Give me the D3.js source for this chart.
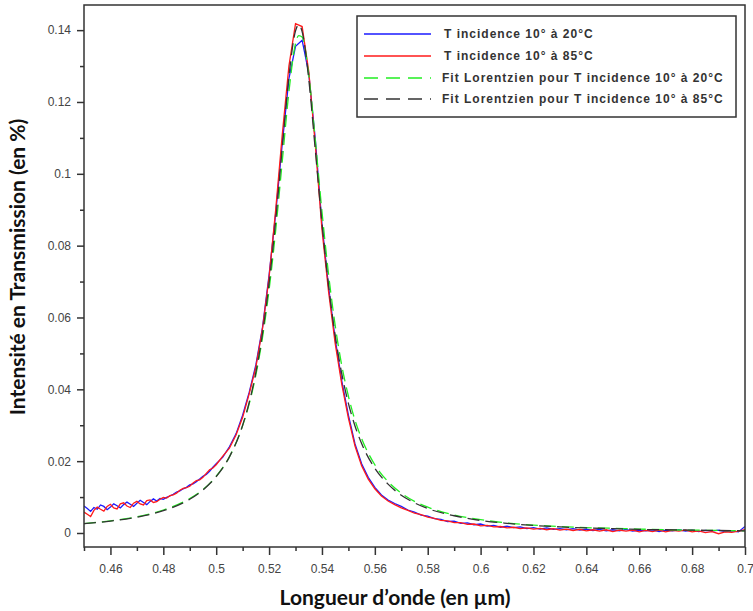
<!DOCTYPE html>
<html><head><meta charset="utf-8">
<script src="https://cdn.jsdelivr.net/npm/d3@7"></script>
<style>html,body{margin:0;padding:0;background:#fff;}svg{display:block;}</style>
</head><body>
<svg id="c" width="753" height="611"></svg>
<script>
// ---- data ----
const measX = [0.45,0.45125,0.4525,0.45375,0.455,0.45625,0.4575,0.45875,0.46,0.46125,0.4625,0.46375,0.465,0.46625,0.4675,0.46875,0.47,0.47125,0.4725,0.47375,
0.475,0.47625,0.4775,0.47875,0.48,0.48125,0.4825,0.48375,0.485,0.48625,0.4875,0.48875,0.49,0.49125,0.4925,0.49375,0.495,0.49625,0.4975,0.49875,
0.50,0.5025,0.505,0.5075,0.51,0.5125,0.515,0.5175,0.52,0.5225,0.525,0.5275,0.53,0.5325,0.535,0.5375,0.54,0.5425,0.545,0.5475,
0.55,0.5525,0.555,0.5575,0.56,0.5625,0.565,0.5675,0.57,0.5725,0.575,0.5775,0.58,0.5825,0.585,0.5875,0.59,0.5925,0.595,0.5975,
0.60,0.6025,0.605,0.6075,0.61,0.6125,0.615,0.6175,0.62,0.6225,0.625,0.6275,0.63,0.6325,0.635,0.6375,0.64,0.6425,0.645,0.6475,
0.65,0.6525,0.655,0.6575,0.66,0.6625,0.665,0.6675,0.67,0.6725,0.675,0.6775,0.68,0.6825,0.685,0.6875,0.69,0.6925,0.695,0.6975,0.70];
const meas20 = [0.0075,0.0068,0.0060,0.0071,0.0066,0.0078,0.0074,0.0065,0.0072,0.0081,0.0076,0.0070,0.0079,0.0086,0.0080,0.0074,0.0083,0.0091,0.0085,0.0079,
0.0088,0.0095,0.0089,0.0096,0.0094,0.0099,0.0103,0.0108,0.0114,0.0117,0.0123,0.0127,0.0134,0.0137,0.0143,0.0150,0.0158,0.0163,0.0172,0.0183,
0.0193,0.0211,0.0240,0.0276,0.0328,0.0392,0.0468,0.0572,0.0718,0.0890,0.1085,0.1265,0.1355,0.1372,0.1280,0.1095,0.0860,0.0685,0.0540,0.0423,
0.0328,0.0248,0.0193,0.0155,0.0127,0.0106,0.0092,0.0082,0.0074,0.0064,0.0058,0.0050,0.0047,0.0040,0.0038,0.0032,0.0033,0.0027,0.0028,0.0023,
0.0025,0.0019,0.0021,0.0016,0.0019,0.0015,0.0017,0.0012,0.0015,0.0011,0.0014,0.0010,0.0012,0.0009,0.0012,0.0008,0.0011,0.0007,0.0010,0.0006,
0.0009,0.0006,0.0010,0.0005,0.0008,0.0006,0.0009,0.0004,0.0008,0.0006,0.0009,0.0005,0.0008,0.0004,0.0007,0.0005,0.0008,0.0004,0.0006,0.0003,0.0018];
const meas85 = [0.0058,0.0052,0.0046,0.0063,0.0072,0.0066,0.0061,0.0074,0.0080,0.0070,0.0067,0.0081,0.0084,0.0075,0.0071,0.0083,0.0088,0.0081,0.0078,0.0090,
0.0092,0.0085,0.0087,0.0094,0.0099,0.0097,0.0104,0.0106,0.0111,0.0119,0.0124,0.0126,0.0130,0.0139,0.0146,0.0148,0.0155,0.0166,0.0176,0.0181,
0.0190,0.0214,0.0236,0.0273,0.0322,0.0388,0.0462,0.0568,0.0712,0.0900,0.1110,0.1300,0.1418,0.1410,0.1285,0.1080,0.0845,0.0672,0.0528,0.0414,
0.0320,0.0242,0.0187,0.0150,0.0123,0.0103,0.0089,0.0079,0.0070,0.0063,0.0055,0.0051,0.0044,0.0041,0.0035,0.0034,0.0029,0.0029,0.0024,0.0025,
0.0020,0.0021,0.0017,0.0018,0.0014,0.0016,0.0012,0.0014,0.0011,0.0013,0.0009,0.0012,0.0008,0.0011,0.0007,0.0010,0.0006,0.0009,0.0005,0.0009,
0.0004,0.0008,0.0005,0.0008,0.0003,0.0007,0.0004,0.0008,0.0003,0.0007,0.0005,0.0008,0.0003,0.0006,0.0001,0.0004,-0.0002,0.0003,0.0002,0.0005,0.0009];

const fitX = [0.45,0.46,0.47,0.48,0.49,0.495,0.50,0.505,0.51,0.5125,0.515,0.5175,0.52,0.5225,0.525,0.5275,0.53,0.5312,0.5325,0.535,
0.5375,0.54,0.5425,0.545,0.5475,0.55,0.5525,0.555,0.56,0.565,0.57,0.575,0.58,0.59,0.60,0.61,0.62,0.63,0.64,0.65,0.66,0.67,0.68,0.69,0.70];
const fit20 = [0.0026,0.0034,0.0045,0.0064,0.0096,0.0121,0.0158,0.0212,0.0299,0.0360,0.0440,0.0544,0.0677,0.0843,0.1036,0.1228,0.1363,0.1385,0.1381,0.1275,
0.1092,0.0895,0.0720,0.0578,0.0466,0.0381,0.0314,0.0263,0.0190,0.0143,0.0111,0.0088,0.0072,0.0050,0.0037,0.0028,0.0022,0.0018,0.0015,0.0013,0.0011,0.0009,0.0008,0.0007,0.0006];
const fit85 = [0.0026,0.0033,0.0044,0.0062,0.0094,0.0120,0.0157,0.0212,0.0300,0.0364,0.0447,0.0555,0.0695,0.0870,0.1074,0.1271,0.1398,0.1415,0.1396,0.1264,
0.1065,0.0863,0.0688,0.0550,0.0443,0.0361,0.0298,0.0249,0.0180,0.0136,0.0105,0.0084,0.0068,0.0048,0.0035,0.0027,0.0021,0.0017,0.0014,0.0012,0.0010,0.0009,0.0008,0.0007,0.0006];

const xMajor = [0.46,0.48,0.50,0.52,0.54,0.56,0.58,0.60,0.62,0.64,0.66,0.68,0.70];
const xMajorLabels = ["0.46","0.48","0.5","0.52","0.54","0.56","0.58","0.6","0.62","0.64","0.66","0.68","0.7"];
const xMinor = [0.45,0.47,0.49,0.51,0.53,0.55,0.57,0.59,0.61,0.63,0.65,0.67,0.69];
const yMajor = [0,0.02,0.04,0.06,0.08,0.10,0.12,0.14];
const yMajorLabels = ["0","0.02","0.04","0.06","0.08","0.1","0.12","0.14"];
const yMinor = [0.01,0.03,0.05,0.07,0.09,0.11,0.13];

const seriesNames = ["T incidence 10° à 20°C","T incidence 10° à 85°C","Fit Lorentzien pour T incidence 10° à 20°C","Fit Lorentzien pour T incidence 10° à 85°C"];
const seriesColors = ["#1a1aff","#ff1a1a","#22ee22","#333333"];
const seriesDash = [null,null,"12,6","12,6"];

// ---- layout ----
const svg = d3.select("#c");
const L = 84, R = 745, T = 5, B = 547;
const x = d3.scaleLinear().domain([0.45,0.70]).range([L,R]);
const y = d3.scaleLinear().domain([-0.0039,0.147]).range([B,T]);

const axisColor = "#333";
const tickFont = "'Liberation Sans', Arial, sans-serif";

// x axis
const gx = svg.append("g").attr("transform",`translate(0,${B})`)
  .call(d3.axisBottom(x).tickValues(xMajor).tickSize(8).tickPadding(9)
    .tickFormat((d,i)=>xMajorLabels[i]));
gx.select(".domain").remove();
gx.selectAll("text").attr("font-family",tickFont).attr("font-size",12).attr("fill","#444");
gx.selectAll("line").attr("stroke",axisColor).attr("stroke-width",1.5);
const gxm = svg.append("g").attr("transform",`translate(0,${B})`)
  .call(d3.axisBottom(x).tickValues(xMinor).tickSize(4).tickFormat(""));
gxm.select(".domain").remove();
gxm.selectAll("line").attr("stroke",axisColor).attr("stroke-width",1.5);

// y axis
const gy = svg.append("g").attr("transform",`translate(${L},0)`)
  .call(d3.axisLeft(y).tickValues(yMajor).tickSize(7).tickPadding(6)
    .tickFormat((d,i)=>yMajorLabels[i]));
gy.select(".domain").remove();
gy.selectAll("text").attr("font-family",tickFont).attr("font-size",12).attr("fill","#444");
gy.selectAll("line").attr("stroke",axisColor).attr("stroke-width",1.5);
const gym = svg.append("g").attr("transform",`translate(${L},0)`)
  .call(d3.axisLeft(y).tickValues(yMinor).tickSize(4).tickFormat(""));
gym.select(".domain").remove();
gym.selectAll("line").attr("stroke",axisColor).attr("stroke-width",1.5);

// curves
const clip = svg.append("clipPath").attr("id","pc").append("rect")
  .attr("x",L).attr("y",T).attr("width",R-L).attr("height",B-T);
const plot = svg.append("g").attr("clip-path","url(#pc)");
const lineGen = d3.line().x(d=>x(d[0])).y(d=>y(d[1]));
const smoothGen = d3.line().x(d=>x(d[0])).y(d=>y(d[1])).curve(d3.curveMonotoneX);
const series = [
  {xs:measX, ys:meas20, gen:lineGen},
  {xs:measX, ys:meas85, gen:lineGen},
  {xs:fitX, ys:fit20, gen:smoothGen},
  {xs:fitX, ys:fit85, gen:smoothGen}
];
series.forEach((s,i)=>{
  const pts = s.xs.map((v,k)=>[v,s.ys[k]]);
  plot.append("path").attr("d",s.gen(pts)).attr("fill","none")
    .attr("stroke",seriesColors[i]).attr("stroke-width",1.3)
    .attr("stroke-dasharray",seriesDash[i]);
});

// frame
svg.append("rect").attr("x",L).attr("y",T).attr("width",R-L).attr("height",B-T)
  .attr("fill","none").attr("stroke",axisColor).attr("stroke-width",1.5);

// legend
const lg = svg.append("g");
lg.append("rect").attr("x",357).attr("y",16).attr("width",379).attr("height",101)
  .attr("fill","#fff").attr("stroke",axisColor).attr("stroke-width",1.5);
const rowsY = [34,56,78,99];
seriesNames.forEach((n,i)=>{
  lg.append("line").attr("x1",364).attr("x2",431).attr("y1",rowsY[i]).attr("y2",rowsY[i])
    .attr("stroke",seriesColors[i]).attr("stroke-width",1.5)
    .attr("stroke-dasharray",seriesDash[i] ? "14,8" : null);
  lg.append("text").attr("x", i<2 ? 444 : 442).attr("y",rowsY[i]+4)
    .attr("font-family",tickFont).attr("font-size",12).attr("font-weight","bold")
    .attr("fill","#333").attr("letter-spacing","1px").text(n);
});

// axis titles
svg.append("text").attr("x",395).attr("y",605).attr("text-anchor","middle")
  .attr("font-family","Lato, 'Open Sans', sans-serif").attr("font-weight","bold").attr("font-size",21)
  .attr("fill","#111").text("Longueur d’onde (en µm)");
svg.append("text").attr("transform","translate(25,267) rotate(-90)").attr("text-anchor","middle")
  .attr("font-family","Lato, 'Open Sans', sans-serif").attr("font-weight","bold").attr("font-size",21)
  .attr("fill","#111").text("Intensité en Transmission (en %)");
</script>
</body></html>
